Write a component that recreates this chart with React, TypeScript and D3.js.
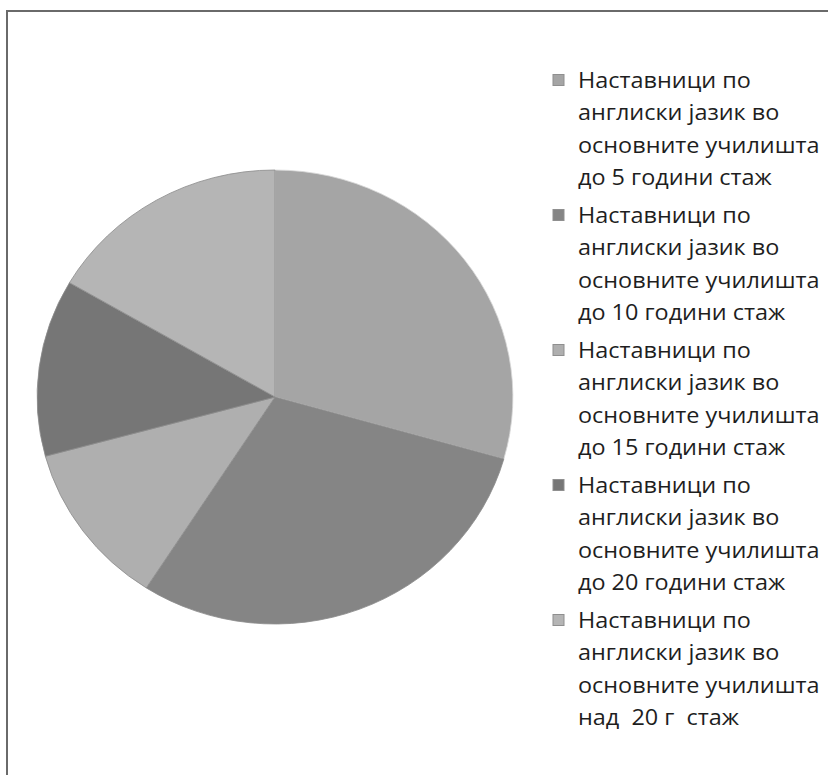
import React from "react";
import * as d3 from "d3";

// share of teachers by years of service
const categories = [
  ["Наставници по", "англиски јазик во", "основните училишта", "до 5 години стаж"],
  ["Наставници по", "англиски јазик во", "основните училишта", "до 10 години стаж"],
  ["Наставници по", "англиски јазик во", "основните училишта", "до 15 години стаж"],
  ["Наставници по", "англиски јазик во", "основните училишта", "до 20 години стаж"],
  ["Наставници по", "англиски јазик во", "основните училишта", "над  20 г  стаж"],
];
const values = [29.4, 29.7, 11.7, 12.6, 16.6];
const colors = ["#a5a5a5", "#858585", "#afafaf", "#767676", "#b5b5b5"];

const W = 828;
const H = 775;

export default function App() {
  const cx = 275;
  const cy = 397;
  const r = 227;

  const pie = d3
    .pie<number>()
    .sort(null)
    .value((d) => d);
  const arc = d3.arc<d3.PieArcDatum<number>>().innerRadius(0).outerRadius(r);
  const slices = pie(values);

  const legendX = 553;
  const textX = 578;
  const legendTop = 80;
  const groupGap = 135;
  const lineGap = 32.4;

  return (
    <svg
      width={W}
      height={H}
      style={{ position: "absolute", left: 0, top: 0, background: "#fff" }}
      fontFamily="'Open Sans', Lato, sans-serif"
    >
      <rect x={7} y={11} width={W + 20} height={H + 20} fill="#fff" stroke="#6a6a6a" strokeWidth={2} />
      {/* the scan is a little wider than tall */}
      <g transform={`translate(${cx},${cy}) scale(1.048,1)`}>
        {slices.map((s, i) => (
          <path
            key={i}
            d={arc(s) || ""}
            fill={colors[i]}
            stroke={i === 0 ? "#d8d8d8" : "#8c8c8c"}
            strokeWidth={0.8}
          />
        ))}
      </g>
      {categories.map((lines, i) => {
        const y0 = legendTop + i * groupGap;
        return (
          <g key={i}>
            <rect
              x={legendX}
              y={y0 - 5.5}
              width={11}
              height={11}
              fill={colors[i]}
              stroke="#8f8f8f"
              strokeWidth={1}
            />
            <g transform={`translate(${textX},0) scale(1.05,1)`}>
              {lines.map((t, j) => (
                <text
                  key={j}
                  x={0}
                  y={y0 + j * lineGap}
                  dy="0.36em"
                  fontSize={22.3}
                  fill="#1e1e1e"
                  style={{ whiteSpace: "pre" }}
                >
                  {t}
                </text>
              ))}
            </g>
          </g>
        );
      })}
    </svg>
  );
}
